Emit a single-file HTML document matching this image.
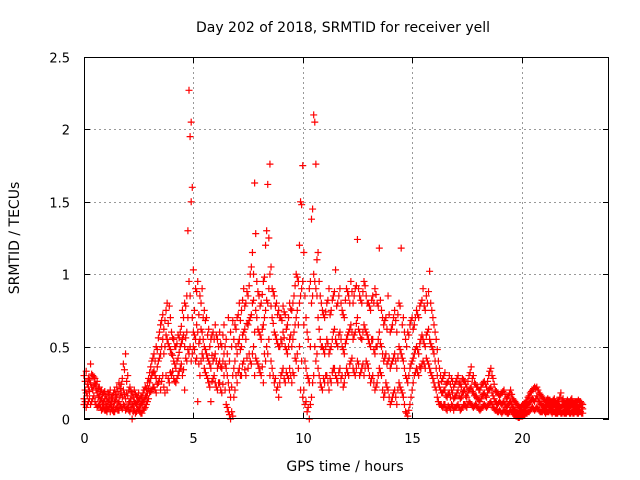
<!DOCTYPE html>
<html><head><meta charset="utf-8"><style>
body{margin:0;background:#fff}
svg{display:block;font-family:"DejaVu Sans","Liberation Sans",sans-serif}
</style></head><body>
<svg id="c" width="640" height="480">
<text x="343" y="32" text-anchor="middle" font-size="14" fill="#000">Day 202 of 2018, SRMTID for receiver yell</text>
<text x="345" y="471" text-anchor="middle" font-size="14" fill="#000">GPS time / hours</text>
<text transform="translate(19,238) rotate(-90)" text-anchor="middle" font-size="14" fill="#000">SRMTID / TECUs</text>
<g id="grid"></g>
<g id="ticks"></g>
<g id="pts"></g>
<rect x="84.5" y="57.5" width="524" height="361" fill="none" stroke="#000" stroke-width="1"/>
</svg>
<script>
const xTicks=[0,5,10,15,20];
const yTicks=[0,0.5,1,1.5,2,2.5];
const yTickLabels=["0","0.5","1","1.5","2","2.5"];
// rows: [time (h), low, mid, high]
const rows=[
[0.0,.10,.14,.30],[0.1,.08,.18,.33],[0.2,.12,.22,.28],[0.3,.10,.25,.38],[0.4,.14,.20,.30],[0.5,.12,.24,.28],[0.6,.08,.18,.26],[0.7,.10,.16,.22],[0.8,.06,.14,.20],[0.9,.08,.12,.18],
[1.0,.06,.10,.16],[1.1,.07,.12,.18],[1.2,.05,.10,.20],[1.3,.06,.14,.16],[1.4,.05,.12,.20],[1.5,.08,.15,.22],[1.6,.06,.12,.25],[1.7,.08,.18,.24],[1.8,.10,.20,.38],[1.9,.06,.14,.45],
[2.0,.08,.16,.30],[2.1,.05,.12,.22],[2.2,.00,.10,.18],[2.3,.06,.12,.20],[2.4,.05,.10,.16],[2.5,.06,.13,.18],[2.6,.04,.10,.16],[2.7,.06,.12,.18],[2.8,.08,.15,.22],[2.9,.12,.18,.25],
[3.0,.18,.25,.32],[3.1,.20,.30,.40],[3.2,.22,.33,.45],[3.3,.18,.28,.50],[3.4,.25,.40,.56],[3.5,.20,.45,.65],[3.6,.30,.55,.72],[3.7,.18,.50,.68],[3.8,.20,.55,.80],[3.9,.25,.50,.78],
[4.0,.30,.45,.60],[4.1,.28,.40,.55],[4.2,.25,.35,.50],[4.3,.30,.42,.58],[4.4,.35,.50,.60],[4.5,.30,.55,.75],[4.6,.20,.50,.80],[4.7,.40,.60,.85],[4.8,.45,.95,2.27],[4.9,.40,1.5,2.05],
[5.0,.50,.60,1.03],[5.1,.40,.55,.90],[5.2,.12,.60,.95],[5.3,.30,.55,.85],[5.4,.45,.60,.90],[5.5,.35,.50,.75],[5.6,.30,.45,.70],[5.7,.25,.40,.62],[5.8,.12,.35,.55],[5.9,.28,.40,.60],
[6.0,.25,.45,.65],[6.1,.20,.35,.55],[6.2,.25,.40,.60],[6.3,.18,.35,.50],[6.4,.30,.45,.65],[6.5,.10,.35,.55],[6.6,.05,.25,.70],[6.7,.00,.15,.60],[6.8,.02,.30,.68],[6.9,.20,.40,.65],
[7.0,.25,.45,.70],[7.1,.35,.55,.80],[7.2,.30,.50,.75],[7.3,.40,.60,.90],[7.4,.30,.55,.80],[7.5,.35,.65,.85],[7.6,.40,.70,1.00],[7.7,.45,.80,1.15],[7.8,.30,.60,1.63],[7.9,.40,.70,.95],
[8.0,.35,.60,.85],[8.1,.30,.55,.80],[8.2,.25,.65,.95],[8.3,.40,.75,1.20],[8.4,.45,.80,1.62],[8.5,.30,1.0,1.76],[8.6,.35,.70,.90],[8.7,.25,.60,.85],[8.8,.20,.55,.80],[8.9,.15,.50,.75],
[9.0,.30,.55,.70],[9.1,.35,.60,.78],[9.2,.25,.50,.72],[9.3,.30,.45,.65],[9.4,.35,.55,.80],[9.5,.25,.50,.75],[9.6,.30,.60,.85],[9.7,.40,.70,1.00],[9.8,.35,.65,.95],[9.9,.20,.85,1.50],
[10.0,.15,.95,1.75],[10.1,.10,.40,.85],[10.2,.05,.30,.60],[10.3,.00,.25,.90],[10.4,.15,.80,1.38],[10.5,.30,1.0,2.10],[10.6,.40,.90,1.76],[10.7,.35,.70,1.15],[10.8,.25,.55,.85],[10.9,.20,.50,.75],
[11.0,.25,.45,.70],[11.1,.30,.55,.80],[11.2,.20,.45,.90],[11.3,.25,.50,.75],[11.4,.35,.60,.85],[11.5,.30,.55,1.03],[11.6,.25,.50,.80],[11.7,.35,.60,.90],[11.8,.30,.50,.75],[11.9,.25,.45,.70],
[12.0,.35,.55,.90],[12.1,.30,.60,.85],[12.2,.40,.65,.95],[12.3,.35,.55,.80],[12.4,.30,.60,.90],[12.5,.40,.70,1.24],[12.6,.30,.60,.85],[12.7,.35,.55,.80],[12.8,.30,.65,.95],[12.9,.40,.60,.85],
[13.0,.35,.55,.80],[13.1,.25,.50,.75],[13.2,.30,.55,.85],[13.3,.20,.45,.90],[13.4,.25,.50,.80],[13.5,.35,.60,1.18],[13.6,.30,.50,.75],[13.7,.15,.40,.65],[13.8,.25,.45,.70],[13.9,.20,.40,.85],
[14.0,.10,.35,.60],[14.1,.15,.40,.65],[14.2,.20,.45,.75],[14.3,.10,.35,.60],[14.4,.25,.50,.80],[14.5,.20,.45,1.18],[14.6,.15,.40,.70],[14.7,.05,.30,.55],[14.8,.02,.25,.60],[14.9,.10,.35,.65],
[15.0,.20,.40,.70],[15.1,.30,.45,.65],[15.2,.35,.50,.75],[15.3,.30,.45,.70],[15.4,.35,.55,.80],[15.5,.40,.55,.90],[15.6,.35,.50,.75],[15.7,.40,.60,.80],[15.8,.35,.55,1.02],[15.9,.30,.50,.75],
[16.0,.25,.45,.65],[16.1,.20,.35,.55],[16.2,.12,.25,.40],[16.3,.10,.20,.30],[16.4,.08,.18,.28],[16.5,.10,.20,.32],[16.6,.06,.15,.25],[16.7,.08,.18,.30],[16.8,.10,.20,.28],[16.9,.06,.14,.22],
[17.0,.08,.16,.26],[17.1,.10,.20,.30],[17.2,.06,.14,.24],[17.3,.08,.18,.28],[17.4,.10,.20,.26],[17.5,.08,.15,.22],[17.6,.12,.20,.30],[17.7,.10,.22,.36],[17.8,.08,.18,.30],[17.9,.10,.16,.24],
[18.0,.08,.14,.22],[18.1,.06,.12,.20],[18.2,.08,.16,.24],[18.3,.10,.18,.26],[18.4,.08,.15,.22],[18.5,.10,.20,.30],[18.6,.12,.22,.35],[18.7,.08,.16,.28],[18.8,.06,.12,.20],[18.9,.05,.10,.18],
[19.0,.06,.12,.16],[19.1,.04,.10,.18],[19.2,.06,.12,.20],[19.3,.05,.08,.14],[19.4,.04,.10,.16],[19.5,.06,.12,.20],[19.6,.04,.08,.14],[19.7,.03,.06,.12],[19.8,.02,.05,.10],[19.9,.01,.04,.08],
[20.0,.02,.05,.09],[20.1,.03,.06,.10],[20.2,.04,.08,.12],[20.3,.05,.10,.15],[20.4,.06,.12,.18],[20.5,.08,.14,.20],[20.6,.06,.12,.22],[20.7,.08,.16,.22],[20.8,.06,.12,.18],[20.9,.05,.10,.16],
[21.0,.06,.09,.14],[21.1,.04,.08,.12],[21.2,.05,.10,.14],[21.3,.06,.09,.13],[21.4,.04,.08,.12],[21.5,.05,.10,.14],[21.6,.04,.07,.11],[21.7,.05,.09,.13],[21.8,.04,.08,.18],[21.9,.05,.10,.14],
[22.0,.04,.07,.11],[22.1,.05,.09,.13],[22.2,.04,.08,.12],[22.3,.05,.10,.14],[22.4,.04,.07,.11],[22.5,.05,.09,.12],[22.6,.04,.08,.13],[22.7,.05,.10,.12],[22.8,.04,.07,.10]
];
// additional samples at half-steps: [time (h), v1, v2, v3]
const rows2=[
[0.05,.12,.20,.26],[0.15,.10,.16,.24],[0.25,.14,.19,.27],[0.35,.12,.22,.31],[0.45,.16,.23,.29],[0.55,.10,.20,.24],[0.65,.09,.15,.21],[0.75,.08,.13,.19],[0.85,.07,.11,.17],[0.95,.06,.14,.19],
[1.05,.05,.09,.14],[1.15,.08,.13,.17],[1.25,.07,.11,.15],[1.35,.05,.09,.18],[1.45,.07,.13,.17],[1.55,.06,.11,.19],[1.65,.09,.16,.21],[1.75,.07,.15,.28],[1.85,.09,.17,.34],[1.95,.07,.18,.26],
[2.05,.06,.11,.20],[2.15,.07,.14,.19],[2.25,.05,.09,.15],[2.35,.04,.11,.17],[2.45,.07,.12,.15],[2.55,.05,.09,.14],[2.65,.04,.11,.15],[2.75,.07,.13,.20],[2.85,.10,.16,.21],[2.95,.14,.21,.28],
[3.05,.19,.28,.36],[3.15,.22,.32,.42],[3.25,.20,.30,.40],[3.35,.24,.36,.48],[3.45,.28,.42,.60],[3.55,.26,.50,.68],[3.65,.22,.45,.62],[3.75,.30,.58,.75],[3.85,.28,.52,.66],[3.95,.32,.48,.70],
[4.05,.33,.44,.56],[4.15,.26,.38,.50],[4.25,.28,.40,.52],[4.35,.33,.46,.56],[4.45,.38,.52,.64],[4.55,.34,.58,.70],[4.65,.42,.56,.78],[4.75,.48,.70,1.30],[4.85,.50,.85,1.95],[4.95,.45,.70,1.60],
[5.05,.48,.58,.75],[5.15,.42,.65,.88],[5.25,.38,.52,.72],[5.35,.40,.62,.80],[5.45,.42,.55,.70],[5.55,.32,.48,.68],[5.65,.28,.42,.58],[5.75,.22,.38,.50],[5.85,.26,.44,.58],[5.95,.30,.42,.55],
[6.05,.22,.40,.58],[6.15,.25,.38,.50],[6.25,.20,.36,.52],[6.35,.24,.40,.58],[6.45,.20,.38,.50],[6.55,.08,.30,.45],[6.65,.03,.20,.40],[6.75,.05,.22,.50],[6.85,.15,.35,.55],[6.95,.30,.50,.62],
[7.05,.32,.52,.72],[7.15,.30,.48,.68],[7.25,.38,.58,.82],[7.35,.34,.62,.78],[7.45,.42,.66,.88],[7.55,.45,.68,.92],[7.65,.38,.72,1.05],[7.75,.50,.82,1.00],[7.85,.42,.75,1.28],[7.95,.38,.62,.88],
[8.05,.32,.58,.78],[8.15,.36,.62,.86],[8.25,.45,.70,.98],[8.35,.50,.82,1.30],[8.45,.55,.90,1.25],[8.55,.40,.78,1.05],[8.65,.30,.66,.88],[8.75,.28,.58,.78],[8.85,.22,.52,.72],[8.95,.25,.50,.70],
[9.05,.32,.52,.68],[9.15,.28,.56,.74],[9.25,.32,.48,.62],[9.35,.28,.50,.70],[9.45,.30,.58,.76],[9.55,.32,.55,.80],[9.65,.42,.65,.92],[9.75,.45,.75,.98],[9.85,.50,.80,1.20],[9.95,.40,.90,1.48],
[10.05,.20,.65,1.15],[10.15,.12,.35,.70],[10.25,.08,.28,.55],[10.35,.10,.50,.95],[10.45,.25,.85,1.45],[10.55,.50,.95,2.05],[10.65,.45,.85,1.10],[10.75,.30,.62,.95],[10.85,.22,.50,.80],[10.95,.28,.48,.72],
[11.05,.30,.50,.74],[11.15,.25,.52,.82],[11.25,.28,.48,.72],[11.35,.32,.55,.82],[11.45,.35,.62,.88],[11.55,.28,.52,.78],[11.65,.32,.58,.85],[11.75,.28,.55,.80],[11.85,.22,.48,.72],[11.95,.30,.52,.82],
[12.05,.32,.58,.88],[12.15,.38,.62,.80],[12.25,.42,.60,.88],[12.35,.32,.58,.85],[12.45,.35,.66,.92],[12.55,.38,.62,.90],[12.65,.32,.56,.82],[12.75,.38,.60,.88],[12.85,.35,.62,.92],[12.95,.38,.58,.80],
[13.05,.30,.52,.78],[13.15,.28,.55,.82],[13.25,.25,.48,.80],[13.35,.22,.50,.86],[13.45,.30,.55,.78],[13.55,.32,.52,.82],[13.65,.20,.45,.70],[13.75,.18,.42,.68],[13.85,.22,.38,.62],[13.95,.15,.42,.72],
[14.05,.12,.38,.62],[14.15,.18,.42,.70],[14.25,.15,.40,.68],[14.35,.20,.42,.72],[14.45,.22,.48,.78],[14.55,.18,.42,.65],[14.65,.10,.35,.60],[14.75,.04,.28,.50],[14.85,.06,.30,.58],[14.95,.15,.38,.68],
[15.05,.25,.42,.62],[15.15,.32,.48,.70],[15.25,.32,.48,.72],[15.35,.36,.52,.78],[15.45,.38,.58,.82],[15.55,.38,.52,.78],[15.65,.42,.58,.85],[15.75,.38,.62,.88],[15.85,.32,.52,.80],[15.95,.28,.48,.70],
[16.05,.22,.40,.60],[16.15,.15,.30,.48],[16.25,.10,.22,.35],[16.35,.09,.18,.26],[16.45,.10,.20,.30],[16.55,.07,.16,.24],[16.65,.09,.17,.26],[16.75,.07,.15,.24],[16.85,.09,.18,.26],[16.95,.08,.15,.24],
[17.05,.09,.18,.28],[17.15,.08,.16,.25],[17.25,.07,.15,.22],[17.35,.10,.19,.27],[17.45,.09,.16,.24],[17.55,.10,.18,.26],[17.65,.11,.21,.32],[17.75,.09,.19,.28],[17.85,.09,.16,.25],[17.95,.09,.15,.22],
[18.05,.07,.13,.20],[18.15,.07,.14,.22],[18.25,.09,.17,.25],[18.35,.09,.16,.24],[18.45,.09,.18,.26],[18.55,.11,.21,.33],[18.65,.10,.18,.30],[18.75,.07,.14,.24],[18.85,.06,.11,.19],[18.95,.05,.11,.17],
[19.05,.05,.11,.17],[19.15,.05,.11,.19],[19.25,.05,.10,.17],[19.35,.04,.09,.15],[19.45,.05,.11,.18],[19.55,.05,.10,.17],[19.65,.03,.07,.13],[19.75,.02,.05,.11],[19.85,.01,.04,.09],[19.95,.02,.04,.08],
[20.05,.02,.05,.10],[20.15,.03,.07,.11],[20.25,.04,.09,.13],[20.35,.05,.11,.16],[20.45,.07,.13,.19],[20.55,.07,.13,.21],[20.65,.07,.14,.21],[20.75,.07,.14,.20],[20.85,.05,.11,.17],[20.95,.05,.09,.15],
[21.05,.05,.08,.13],[21.15,.05,.09,.13],[21.25,.05,.09,.13],[21.35,.05,.08,.12],[21.45,.05,.09,.13],[21.55,.04,.08,.12],[21.65,.04,.08,.12],[21.75,.05,.09,.15],[21.85,.04,.09,.13],[21.95,.04,.08,.12],
[22.05,.04,.08,.12],[22.15,.05,.08,.12],[22.25,.04,.09,.13],[22.35,.04,.08,.12],[22.45,.05,.08,.12],[22.55,.04,.08,.12],[22.65,.05,.09,.12],[22.75,.04,.08,.11]
];
const NS="http://www.w3.org/2000/svg";
const L=84,R=609,T=57,B=419,XMAX=24,YMAX=2.5;
const sx=v=>L+v/XMAX*(R-L);
const sy=v=>B-v/YMAX*(B-T);
function mk(tag,attrs,parent){const e=document.createElementNS(NS,tag);for(const k in attrs)e.setAttribute(k,attrs[k]);parent.appendChild(e);return e;}
const grid=document.getElementById('grid'),ticks=document.getElementById('ticks'),pts=document.getElementById('pts');
xTicks.forEach(v=>{
  const x=Math.round(sx(v))+0.5;
  if(v>0){const g=mk('line',{x1:x,x2:x,y1:T,y2:B,stroke:'#999','stroke-dasharray':'2,3'},grid);
  
  }
  mk('line',{x1:x,x2:x,y1:B,y2:B-6,stroke:'#000'},ticks);
  mk('line',{x1:x,x2:x,y1:T,y2:T+6,stroke:'#000'},ticks);
  const t=mk('text',{x:x,y:B+24,'text-anchor':'middle','font-size':'13',fill:'#000'},ticks);
  t.textContent=String(v);
  
  
});
yTicks.forEach((v,i)=>{
  const y=Math.round(sy(v))+0.5;
  if(v>0&&v<YMAX){const g=mk('line',{x1:L,x2:R,y1:y,y2:y,stroke:'#999','stroke-dasharray':'2,3'},grid);
  
  }
  mk('line',{x1:L,x2:L+6,y1:y,y2:y,stroke:'#000'},ticks);
  mk('line',{x1:R,x2:R-6,y1:y,y2:y,stroke:'#000'},ticks);
  const t=mk('text',{x:L-14,y:y+5,'text-anchor':'end','font-size':'13',fill:'#000'},ticks);
  t.textContent=yTickLabels[i];
  
  
});
let d='';
[rows,rows2].forEach(set=>set.forEach(r=>{
  const x=sx(r[0]);
  for(let k=1;k<4;k++){const y=sy(r[k]);d+=`M${x-3.5},${y}h7M${x},${y-3.5}v7`;}
}));
const p=mk('path',{d:d,stroke:'#f00','stroke-width':'1.2',fill:'none'},pts);


</script>
</body></html>
